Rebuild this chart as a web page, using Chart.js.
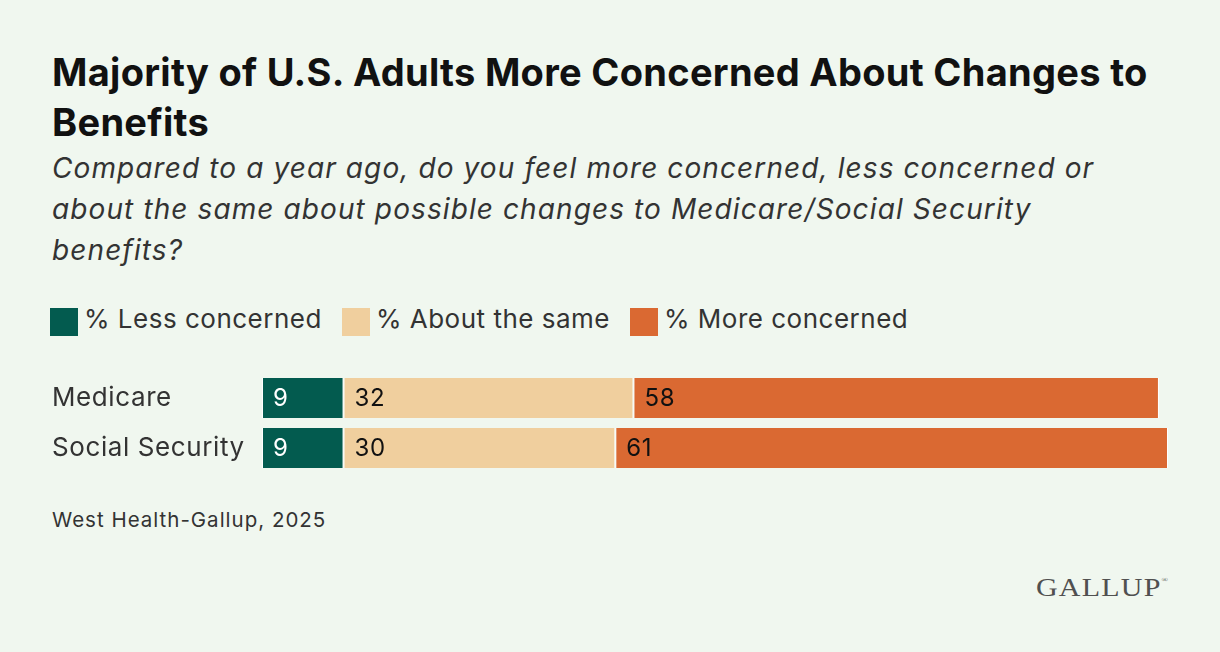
<!DOCTYPE html>
<html>
<head>
<meta charset="utf-8">
<script src="https://cdn.jsdelivr.net/npm/chart.js@4"></script>
<style>
    body { margin: 0; width: 1220px; height: 652px; background: #F0F7EF; position: relative; overflow: hidden; font-family: Inter, "Liberation Sans", sans-serif; }
    h1 { position: absolute; left: 52px; top: 47px; width: 1150px; margin: 0; font-size: 38px; line-height: 50px; font-weight: 700; color: #111; letter-spacing: 0.3px; }
    .sub { position: absolute; left: 52px; top: 148px; width: 1070px; margin: 0; font-size: 28px; line-height: 41px; font-style: italic; color: #333; letter-spacing: 1.1px; }
    .legend { position: absolute; left: 50px; top: 304px; height: 28px; display: flex; align-items: center; font-size: 26px; color: #333; letter-spacing: 0.5px; }
    .legend span { display: flex; align-items: center; margin-right: 20px; }
    .legend i { display: inline-block; width: 28px; height: 28px; margin-right: 6px; position: relative; top: 4px; }
    .source { position: absolute; left: 52px; top: 507px; font-size: 20.5px; line-height: 25px; color: #333; letter-spacing: 1px; }
    .logo { position: absolute; left: 1036px; top: 568px; font-family: "Liberation Serif", "DejaVu Serif", serif; font-size: 25px; line-height: 25px; color: #505050; letter-spacing: 1px; transform: scaleX(1.2); transform-origin: left; }
    .logo sup { font-size: 7px; vertical-align: 14px; }
    #chart { position: absolute; left: 34px; top: 368px; }
</style>
</head>
<body>
<h1>Majority of U.S. Adults More Concerned About Changes to Benefits</h1>
<p class="sub">Compared to a year ago, do you feel more concerned, less concerned or about the same about possible changes to Medicare/Social Security benefits?</p>
<div class="legend" id="legend"></div>
<canvas id="chart" width="1186" height="114"></canvas>
<div class="source">West Health-Gallup, 2025</div>
<div class="logo">GALLUP<sup>®</sup></div>

<script>
    const categories = ['Medicare', 'Social Security'];
    const lessConcerned = [9, 9];
    const aboutSame = [32, 30];
    const moreConcerned = [58, 61];

    const seriesNames = ['% Less concerned', '% About the same', '% More concerned'];
    const seriesColors = ['#035B4F', '#F0CF9E', '#DA6932'];
    const labelColors = ['#ffffff', '#111111', '#111111'];
    const fontFamily = 'Inter, "Liberation Sans", sans-serif';

    // легенда
    const legend = document.getElementById('legend');
    seriesNames.forEach((name, i) => {
        const item = document.createElement('span');
        item.innerHTML = `<i style="background:${seriesColors[i]}"></i>${name}`;
        legend.appendChild(item);
    });

    // подписи значений внутри сегментов
    const valueLabels = {
        id: 'valueLabels',
        afterDatasetsDraw(chart) {
            const ctx = chart.ctx;
            ctx.save();
            ctx.font = '24px ' + fontFamily;
            ctx.textBaseline = 'middle';
            ctx.textAlign = 'left';
            chart.data.datasets.forEach((ds, i) => {
                const meta = chart.getDatasetMeta(i);
                meta.data.forEach((bar, j) => {
                    ctx.fillStyle = labelColors[i];
                    ctx.fillText(ds.data[j], Math.min(bar.base, bar.x) + 11, bar.y + 1);
                });
            });
            ctx.restore();
        }
    };

    // разрядка и категории слева
    const layoutTweaks = {
        id: 'layoutTweaks',
        beforeUpdate(chart) {
            chart.ctx.letterSpacing = '0.6px';
        },
        beforeDraw(chart) {
            chart.ctx.letterSpacing = '0.6px';
        },
        afterLayout(chart) {
            chart.scales.y.left += 18;
        }
    };

    const datasets = [lessConcerned, aboutSame, moreConcerned].map((data, i) => ({
        label: seriesNames[i],
        data: data,
        backgroundColor: seriesColors[i],
        borderColor: '#ffffff',
        borderWidth: {left: 1, right: 1, top: 0, bottom: 0},
        borderSkipped: false,
        barPercentage: 1,
        categoryPercentage: 0.8
    }));

    new Chart(document.getElementById('chart'), {
        type: 'bar',
        data: {labels: categories, datasets: datasets},
        options: {
            indexAxis: 'y',
            responsive: false,
            animation: false,
            layout: {padding: {left: 0, right: 52, top: 5, bottom: 9}},
            scales: {
                x: {stacked: true, min: 0, max: 100, display: false},
                y: {
                    stacked: true,
                    grid: {display: false},
                    border: {display: false},
                    ticks: {crossAlign: 'far', color: '#333', font: {size: 26, family: fontFamily}},
                    afterFit(scale) {
                        scale.width = 228;
                        scale.paddingTop = 0;
                        scale.paddingBottom = 0;
                    }
                }
            },
            plugins: {
                legend: {display: false},
                tooltip: {enabled: false}
            }
        },
        plugins: [valueLabels, layoutTweaks]
    });
</script>
</body>
</html>
